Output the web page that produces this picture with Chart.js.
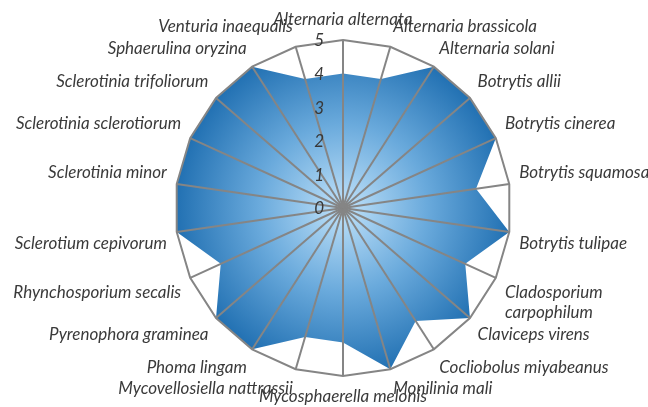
<!DOCTYPE html>
<html>
<head>
<meta charset="utf-8">
<script src="https://cdn.jsdelivr.net/npm/chart.js@4"></script>
<style>
  html, body { margin: 0; padding: 0; background: #fff; }
  #wrap { width: 648px; height: 407px; }
</style>
</head>
<body>
<div id="wrap"><canvas id="c"></canvas></div>
<script>
// Kategorien (im Uhrzeigersinn ab oben)
const species = [
  'Alternaria alternata', 'Alternaria brassicola', 'Alternaria solani', 'Botrytis allii',
  'Botrytis cinerea', 'Botrytis squamosa', 'Botrytis tulipae', ['Cladosporium', 'carpophilum'],
  'Claviceps virens', 'Cocliobolus miyabeanus', 'Monilinia mali', 'Mycosphaerella melonis',
  'Mycovellosiella nattrassii', 'Phoma lingam', 'Pyrenophora graminea', 'Rhynchosporium secalis',
  'Sclerotium cepivorum', 'Sclerotinia minor', 'Sclerotinia sclerotiorum', 'Sclerotinia trifoliorum',
  'Sphaerulina oryzina', 'Venturia inaequalis'
];
const scores = [4, 4, 5, 5, 5, 4, 5, 4, 5, 4, 5, 4, 4, 5, 5, 4, 5, 5, 5, 5, 5, 4];
const tickValues = [0, 1, 2, 3, 4, 5];

const gray = '#858585';
const labelFont = { family: 'Lato', style: 'italic', size: 17 };

// Layout des Netzes: Mittelpunkt und Radius fest vorgeben
const plotCenter = { x: 343, y: 208 };
const plotRadius = 168;

// Chart.js verkleinert den Radius sehr vorsichtig -> setCenterPoint überschreiben
const fixedRadar = {
  id: 'fixedRadar',
  beforeLayout(chart) {
    const r = chart.scales.r;
    if (!r || r._fixed) return;
    const orig = r.setCenterPoint;
    r.setCenterPoint = function(l, rr, t, b) {
      orig.call(this, l, rr, t, b);
      this.xCenter = plotCenter.x;
      this.yCenter = plotCenter.y;
      this.drawingArea = plotRadius;
    };
    r._fixed = true;
  }
};

// Tick-Beschriftungen links neben der senkrechten Achse zeichnen
const tickLabels = {
  id: 'tickLabels',
  afterDraw(chart) {
    const r = chart.scales.r;
    const ctx = chart.ctx;
    ctx.save();
    ctx.font = 'italic 17px Lato';
    ctx.fillStyle = '#383838';
    ctx.textAlign = 'right';
    ctx.textBaseline = 'middle';
    tickValues.forEach(v => {
      const d = r.getDistanceFromCenterForValue(v);
      ctx.fillText(String(v), r.xCenter - 19, r.yCenter - d + 1);
    });
    ctx.restore();
  }
};

new Chart(document.getElementById('c'), {
  type: 'radar',
  data: {
    labels: species,
    datasets: [{
      data: scores,
      borderWidth: 0,
      pointRadius: 0,
      fill: true,
      backgroundColor(ctx) {
        const chart = ctx.chart;
        const r = chart.scales.r;
        if (!r || !chart.chartArea) return '#4a90d0';
        const g = chart.ctx.createRadialGradient(r.xCenter, r.yCenter, 0, r.xCenter, r.yCenter, r.drawingArea);
        g.addColorStop(0, '#c0e2fa');
        g.addColorStop(0.5, '#6aaadc');
        g.addColorStop(1, '#2170b2');
        return g;
      }
    }]
  },
  options: {
    responsive: true,
    maintainAspectRatio: false,
    animation: false,
    plugins: { legend: { display: false }, tooltip: { enabled: false } },
    scales: {
      r: {
        min: 0,
        max: 5,
        ticks: { display: false, stepSize: 1 },
        grid: {
          z: 1,
          color: c => c.tick && c.tick.value === 5 ? gray : 'rgba(0,0,0,0)',
          lineWidth: 2
        },
        angleLines: { color: gray, lineWidth: 2 },
        pointLabels: { font: labelFont, color: '#3a3a3a', padding: 10 }
      }
    }
  },
  plugins: [fixedRadar, tickLabels]
});
</script>
</body>
</html>
